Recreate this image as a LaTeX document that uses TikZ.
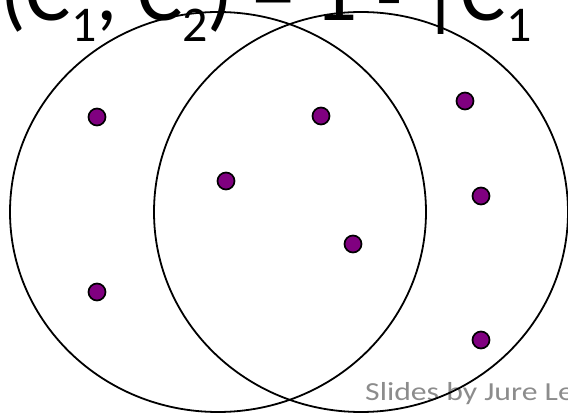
\documentclass[tikz,border=0pt]{standalone}
\usepackage{fontspec}
\setmainfont{Carlito}
\definecolor{setpurple}{RGB}{128,0,128}
\newcommand{\lowidx}[1]{\raisebox{-21pt}{\fontsize{50}{50}\selectfont #1}}
\begin{document}
\begin{tikzpicture}[x=1pt, y=-1pt]
\tikzset{elem/.style={circle, draw=black, fill=setpurple, line width=1.7pt, minimum size=17pt, inner sep=0pt}}
\useasboundingbox (0,0) rectangle (568,414);
\clip (0,0) rectangle (568,414);

% Formula at the top (cut by the frame)
\node[anchor=base west, inner sep=0pt] (formula) at (0,21)
  {\fontsize{85}{90}\selectfont (C\lowidx{1}, C\lowidx{2}) = 1 \raisebox{-4pt}{-} |C\lowidx{1}};

% Credit line
\node[anchor=base west, inner sep=0pt, text=black!45] (credit) at (365,400)
  {\scalebox{1.22}[1]{\fontsize{26}{28}\selectfont Slides by Jure Le}};

% The two sets
\draw[line width=1.8pt] (218,212) ellipse [x radius=208, y radius=200];
\draw[line width=1.8pt] (361,212) ellipse [x radius=207, y radius=200];

% Elements
\node[elem] (a) at (97,117) {};
\node[elem] (b) at (97,292) {};
\node[elem] (c) at (226,181) {};
\node[elem] (d) at (321,116) {};
\node[elem] (e) at (353,244) {};
\node[elem] (f) at (465,101) {};
\node[elem] (g) at (481,196) {};
\node[elem] (h) at (481,340) {};
\end{tikzpicture}
\end{document}
